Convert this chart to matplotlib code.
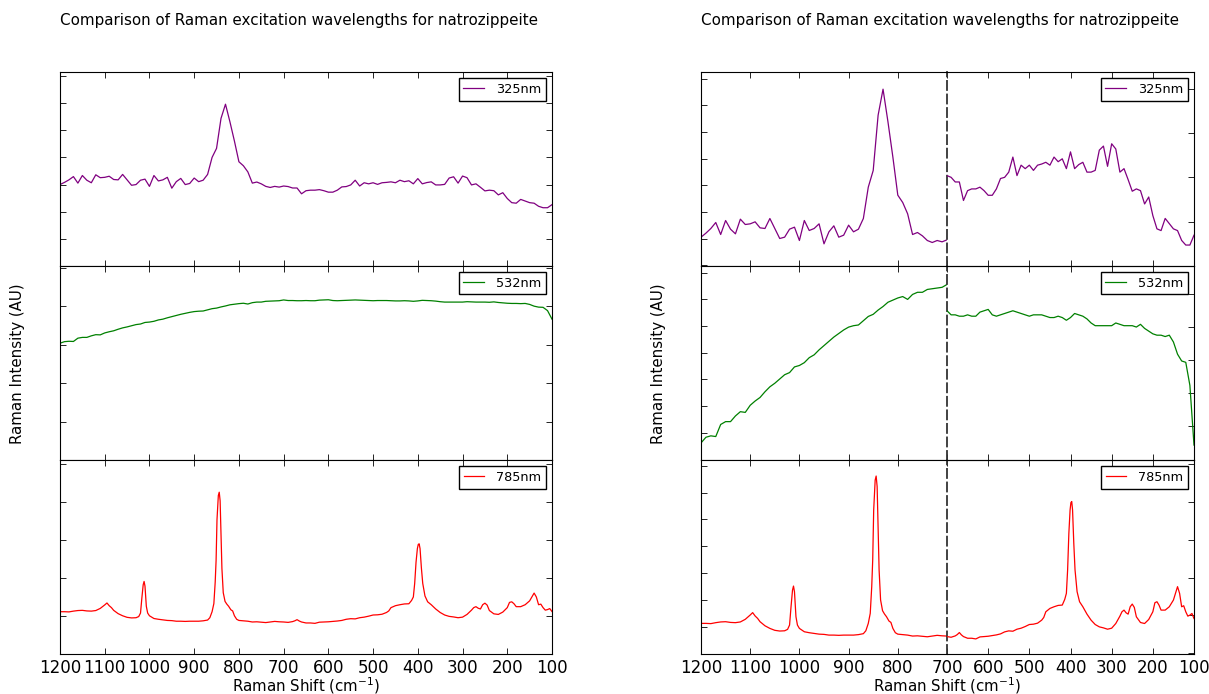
import matplotlib
matplotlib.use("Agg")
import matplotlib.pyplot as plt
from matplotlib.ticker import MultipleLocator

# Raman shift grids (cm-1) and intensities (arbitrary units)
shift_325 = list(range(1200, 95, -10))
int_325 = [450, 462, 476, 494, 458, 500, 474, 460, 504, 488,
           490, 496, 478, 476, 506, 476, 446, 450, 474, 480,
           440, 500, 470, 476, 490, 430, 466, 484, 450, 456,
           486, 466, 474, 506, 600, 650, 816, 894, 796, 690,
           576, 554, 520, 458, 464, 454, 440, 434, 440, 436,
           442, 439, 431, 431, 399, 416, 419, 419, 422, 416,
           408, 408, 419, 437, 439, 448, 474, 442, 460, 454,
           460, 451, 460, 462, 465, 460, 474, 466, 471, 454,
           483, 454, 461, 465, 448, 448, 451, 486, 493, 458,
           497, 488, 448, 454, 435, 415, 419, 416, 393, 405,
           373, 350, 347, 368, 359, 350, 347, 330, 322, 322, 339]

shift_532 = list(range(1200, 95, -10))
int_532 = [602, 610, 612, 611, 628, 632, 632, 640, 646, 645,
           655, 661, 666, 674, 681, 686, 692, 698, 701, 709,
           711, 715, 722, 726, 733, 739, 745, 751, 756, 761,
           765, 767, 768, 774, 780, 783, 789, 794, 800, 803,
           806, 808, 804, 811, 814, 814, 818, 819, 820, 821,
           825, 822, 822, 821, 821, 822, 821, 821, 824, 825,
           826, 822, 821, 822, 823, 824, 825, 824, 823, 822,
           821, 822, 822, 822, 821, 820, 820, 821, 820, 818,
           820, 823, 822, 821, 819, 816, 814, 814, 814, 814,
           814, 816, 815, 814, 814, 814, 813, 815, 812, 810,
           808, 807, 807, 806, 807, 802, 793, 788, 787, 770, 726]

shift_785 = [1200, 1190, 1180, 1170, 1160, 1150, 1140, 1130, 1120, 1110, 1100,
             1095, 1090, 1085, 1080, 1070, 1060, 1050, 1040, 1030,
             1024, 1020, 1017, 1014, 1012, 1010, 1007, 1004, 1000,
             990, 980, 970, 960, 950, 940, 930, 920, 910, 900, 890, 880, 870,
             865, 860, 856, 853, 851, 849, 846, 844, 842, 840, 838, 835, 831,
             827, 823, 818, 814, 810, 805, 800,
             790, 780, 770, 760, 750, 740, 730, 720, 710,
             700, 690, 680, 675, 670, 665, 660,
             650, 640, 630, 620, 610, 600, 590, 580, 570, 560, 550, 540, 530,
             520, 510, 500, 490, 480, 470,
             465, 460, 450, 440, 430, 420,
             414, 410, 407, 404, 401, 399, 397, 395, 392, 389, 384, 378,
             370, 360, 350, 340, 330, 320, 310, 300, 290, 280,
             275, 270, 265, 260, 255, 250, 245, 240,
             230, 220, 210, 200, 195, 190, 185, 180, 170, 160, 150,
             145, 140, 135, 130, 125, 120, 115, 110, 105, 100]
int_785 = [218, 218, 217, 221, 224, 225, 222, 221, 224, 235, 253,
           263, 249, 239, 225, 208, 197, 189, 186, 187,
           193, 211, 288, 357, 374, 350, 246, 211, 197,
           183, 179, 176, 173, 172, 169, 169, 168, 169, 169, 169, 171, 175,
           187, 218, 260, 371, 483, 692, 817, 834, 790, 622, 441, 316, 271,
           257, 246, 228, 222, 197, 179, 173,
           171, 169, 165, 166, 164, 162, 165, 168, 166,
           165, 163, 167, 171, 177, 170, 165,
           160, 160, 158, 164, 165, 166, 168, 170, 173, 179, 182, 181, 187,
           190, 195, 201, 202, 205, 214,
           222, 239, 249, 254, 258, 259,
           276, 294, 364, 473, 543, 565, 568, 543, 443, 364, 299, 269,
           254, 232, 214, 201, 194, 191, 187, 190, 204, 226,
           239, 244, 236, 232, 254, 262, 252, 224,
           207, 204, 216, 239, 266, 269, 259, 244, 244, 254, 274,
           294, 314, 294, 254, 257, 239, 226, 229, 234, 219]

labels = ["325nm", "532nm", "785nm"]
colors = ["purple", "green", "red"]
title = "Comparison of Raman excitation wavelengths for natrozippeite"

series = [(shift_325, int_325), (shift_532, int_532), (shift_785, int_785)]

# y ranges: full view, and the two halves of the split view
full_lim = [(0, 1072), (0, 1000), (0, 1000)]
full_step = [150, 198, 195.5]
low_lim = [(363.5, 945.5), (578, 851), (90, 901)]
low_tick0 = [365.5, 578.5, 91.8]
low_step = [80, 37.6, 112.2]
high_lim = [(286, 621), (715, 858), (113, 692)]
high_tick0 = [285.8, 715.2, 115]
high_step = [76.5, 24.5, 113]

W, H = 1209, 694
fig = plt.figure(figsize=(W / 100, H / 100), dpi=100)
plt.rcParams['font.family'] = 'DejaVu Sans'


def box(x0, y0, x1, y1):
    return [x0 / W, 1 - y1 / H, (x1 - x0) / W, (y1 - y0) / H]


def arange(a, b, s):
    out = []
    v = a
    while v <= b + 1e-9:
        out.append(v)
        v += s
    return out


def add_legend(ax):
    leg = ax.legend(loc="upper right", fontsize=9.3, handlelength=1.6,
                    fancybox=False, framealpha=1, edgecolor="black",
                    borderaxespad=0.5, borderpad=0.35, handletextpad=0.9)
    leg.get_frame().set_linewidth(1.0)


rows = [(72, 266), (266, 460), (460, 654)]
lw = 0.9

# left column: one axes per wavelength
for i, (top, bot) in enumerate(rows):
    xs, ys = series[i]
    ax = fig.add_axes(box(60, top, 552, bot))
    ax.plot(xs, ys, color=colors[i], lw=lw, label=labels[i])
    ax.set_xlim(1200, 100)
    ax.set_ylim(*full_lim[i])
    ax.set_yticks(arange(0, full_lim[i][1], full_step[i]))
    ax.xaxis.set_major_locator(MultipleLocator(100))
    ax.tick_params(direction="in", top=True, right=True, length=4, width=0.6,
                   labelleft=False, labelbottom=(i == 2), labelsize=12)
    add_legend(ax)

# right column: each row split at 700 cm-1, each half scaled on its own
for i, (top, bot) in enumerate(rows):
    xs, ys = series[i]
    axl = fig.add_axes(box(701, top, 947, bot))
    axr = fig.add_axes(box(947, top, 1194, bot))
    axr.patch.set_visible(False)
    axl.plot(xs, ys, color=colors[i], lw=lw)
    axr.plot(xs, ys, color=colors[i], lw=lw, label=labels[i])
    axl.set_xlim(1200, 700)
    axr.set_xlim(700, 100)
    axl.set_xticks(list(range(1200, 699, -100)))
    axr.set_xticks(list(range(600, 99, -100)))
    axl.set_ylim(*low_lim[i])
    axr.set_ylim(*high_lim[i])
    axl.set_yticks(arange(low_tick0[i], low_lim[i][1], low_step[i]))
    axr.set_yticks(arange(high_tick0[i], high_lim[i][1], high_step[i]))
    axl.spines["right"].set_linestyle((0, (5, 2.5)))
    axl.spines["right"].set_color("0.2")
    axl.spines["right"].set_linewidth(1.3)
    axr.spines["left"].set_visible(False)
    axl.tick_params(direction="in", top=True, length=4, width=0.6,
                    labelleft=False, labelbottom=(i == 2), labelsize=12)
    axl.tick_params(axis="y", left=True, right=False)
    axr.tick_params(direction="in", top=True, length=4, width=0.6,
                    labelleft=False, labelright=False, labelbottom=(i == 2),
                    labelsize=12)
    axr.tick_params(axis="y", left=False, right=True)
    add_legend(axr)

for x0, x1, ylab_x in [(60, 552, 18), (701, 1194, 659)]:
    fig.text(x0 / W, 1 - 21 / H, title, fontsize=10.9, va="center", ha="left")
    fig.text((x0 + x1) / 2 / W, 1 - 686 / H, "Raman Shift (cm$^{-1}$)",
             fontsize=10.8, va="center", ha="center")
    fig.text(ylab_x / W, 1 - 364 / H, "Raman Intensity (AU)", fontsize=10.8,
             rotation=90, va="center", ha="center")

fig.savefig("out.png", dpi=100, facecolor="white")
